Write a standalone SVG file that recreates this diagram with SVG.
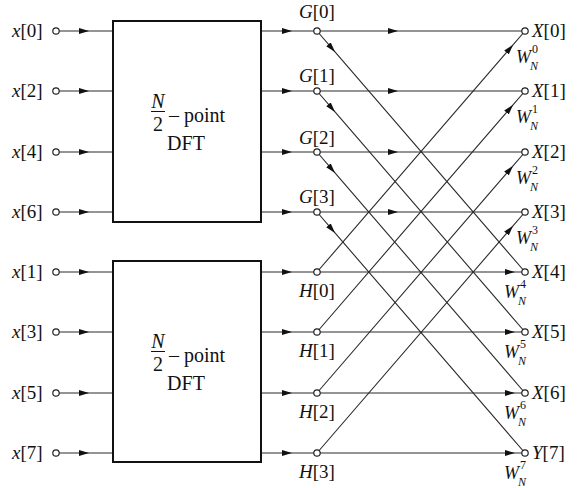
<svg xmlns="http://www.w3.org/2000/svg" width="577" height="488" viewBox="0 0 577 488">
<style>
.ln{fill:none;stroke:#2a2a2a;stroke-width:1.1;marker-mid:url(#ah)}
.box{fill:#fff;stroke:#111;stroke-width:2}
.nd{fill:#fff;stroke:#222;stroke-width:1.2}
text{font-family:"Liberation Serif","Times New Roman",serif;fill:#111}
.lb{font-size:19px}
.it{font-style:italic}
.w{font-size:18px}
.sm{font-size:12px}
.bt{font-size:20px}
</style>
<defs>
<marker id="ah" viewBox="0 0 10 6" refX="10" refY="3" markerWidth="10" markerHeight="6" markerUnits="userSpaceOnUse" orient="auto">
<path d="M0,0 L10,3 L0,6 z" fill="#111"/>
</marker>
</defs>
<rect width="577" height="488" fill="#fff"/>

<g id="connectors">
<path class="ln" d="M59,31 L89,31 L113,31"/>
<path class="ln" d="M59,91 L89,91 L113,91"/>
<path class="ln" d="M59,152 L89,152 L113,152"/>
<path class="ln" d="M59,212 L89,212 L113,212"/>
<path class="ln" d="M59,272 L89,272 L113,272"/>
<path class="ln" d="M59,332 L89,332 L113,332"/>
<path class="ln" d="M59,393 L89,393 L113,393"/>
<path class="ln" d="M59,453 L89,453 L113,453"/>
<path class="ln" d="M261,31 L292,31 L314,31"/>
<path class="ln" d="M261,91 L292,91 L314,91"/>
<path class="ln" d="M261,152 L292,152 L314,152"/>
<path class="ln" d="M261,212 L292,212 L314,212"/>
<path class="ln" d="M261,272 L292,272 L314,272"/>
<path class="ln" d="M261,332 L292,332 L314,332"/>
<path class="ln" d="M261,393 L292,393 L314,393"/>
<path class="ln" d="M261,453 L292,453 L314,453"/>
<path class="ln" d="M320,31 L398,31 L522,31"/>
<path class="ln" d="M320,91 L398,91 L522,91"/>
<path class="ln" d="M320,152 L398,152 L522,152"/>
<path class="ln" d="M320,212 L398,212 L522,212"/>
<path class="ln" d="M320,272 L515,272 L522,272"/>
<path class="ln" d="M320,332 L515,332 L522,332"/>
<path class="ln" d="M320,393 L515,393 L522,393"/>
<path class="ln" d="M320,453 L515,453 L522,453"/>
<path class="ln" d="M317,31 L335,51.9 L525,272"/>
<path class="ln" d="M317,91 L335,111.9 L525,332"/>
<path class="ln" d="M317,152 L335,172.9 L525,393"/>
<path class="ln" d="M317,212 L335,232.9 L525,453"/>
<path class="ln" d="M317,272 L513,44.9 L525,31"/>
<path class="ln" d="M317,332 L513,104.9 L525,91"/>
<path class="ln" d="M317,393 L513,165.9 L525,152"/>
<path class="ln" d="M317,453 L513,225.9 L525,212"/>
</g>

<g id="dft-top">
<rect class="box" x="113" y="21" width="148" height="201"/>
<text class="bt it" x="158" y="108" text-anchor="middle">N</text>
<line x1="151" y1="111.5" x2="165" y2="111.5" stroke="#111" stroke-width="1"/>
<text class="bt" x="158" y="131" text-anchor="middle">2</text>
<text class="bt" x="169" y="122">– point</text>
<text class="bt" x="186" y="150" text-anchor="middle">DFT</text>
</g>
<g id="dft-bottom">
<rect class="box" x="113" y="261" width="148" height="201"/>
<text class="bt it" x="158" y="348" text-anchor="middle">N</text>
<line x1="151" y1="351.5" x2="165" y2="351.5" stroke="#111" stroke-width="1"/>
<text class="bt" x="158" y="371" text-anchor="middle">2</text>
<text class="bt" x="169" y="362">– point</text>
<text class="bt" x="186" y="390" text-anchor="middle">DFT</text>
</g>

<g id="inputs">
<g id="in-x0"><circle class="nd" cx="56" cy="31" r="3.2"/><text class="lb" x="12" y="37"><tspan class="it">x</tspan>[0]</text></g>
<g id="in-x2"><circle class="nd" cx="56" cy="91" r="3.2"/><text class="lb" x="12" y="97"><tspan class="it">x</tspan>[2]</text></g>
<g id="in-x4"><circle class="nd" cx="56" cy="152" r="3.2"/><text class="lb" x="12" y="158"><tspan class="it">x</tspan>[4]</text></g>
<g id="in-x6"><circle class="nd" cx="56" cy="212" r="3.2"/><text class="lb" x="12" y="218"><tspan class="it">x</tspan>[6]</text></g>
<g id="in-x1"><circle class="nd" cx="56" cy="272" r="3.2"/><text class="lb" x="12" y="278"><tspan class="it">x</tspan>[1]</text></g>
<g id="in-x3"><circle class="nd" cx="56" cy="332" r="3.2"/><text class="lb" x="12" y="338"><tspan class="it">x</tspan>[3]</text></g>
<g id="in-x5"><circle class="nd" cx="56" cy="393" r="3.2"/><text class="lb" x="12" y="399"><tspan class="it">x</tspan>[5]</text></g>
<g id="in-x7"><circle class="nd" cx="56" cy="453" r="3.2"/><text class="lb" x="12" y="459"><tspan class="it">x</tspan>[7]</text></g>
</g>

<g id="mid-nodes">
<g id="G0"><circle class="nd" cx="317" cy="31" r="3.2"/><text class="lb" x="299" y="18"><tspan class="it">G</tspan>[0]</text></g>
<g id="G1"><circle class="nd" cx="317" cy="91" r="3.2"/><text class="lb" x="299" y="82"><tspan class="it">G</tspan>[1]</text></g>
<g id="G2"><circle class="nd" cx="317" cy="152" r="3.2"/><text class="lb" x="299" y="144"><tspan class="it">G</tspan>[2]</text></g>
<g id="G3"><circle class="nd" cx="317" cy="212" r="3.2"/><text class="lb" x="299" y="203"><tspan class="it">G</tspan>[3]</text></g>
<g id="H0"><circle class="nd" cx="317" cy="272" r="3.2"/><text class="lb" x="299" y="297"><tspan class="it">H</tspan>[0]</text></g>
<g id="H1"><circle class="nd" cx="317" cy="332" r="3.2"/><text class="lb" x="299" y="357"><tspan class="it">H</tspan>[1]</text></g>
<g id="H2"><circle class="nd" cx="317" cy="393" r="3.2"/><text class="lb" x="299" y="418"><tspan class="it">H</tspan>[2]</text></g>
<g id="H3"><circle class="nd" cx="317" cy="453" r="3.2"/><text class="lb" x="299" y="478"><tspan class="it">H</tspan>[3]</text></g>
</g>

<g id="outputs">
<g id="X0"><circle class="nd" cx="525" cy="31" r="3.2"/><text class="lb" x="532" y="37"><tspan class="it">X</tspan>[0]</text>
<text class="w it" x="516" y="63">W</text><text class="sm" x="532" y="53">0</text><text class="sm it" x="530" y="70">N</text></g>
<g id="X1"><circle class="nd" cx="525" cy="91" r="3.2"/><text class="lb" x="532" y="97"><tspan class="it">X</tspan>[1]</text>
<text class="w it" x="516" y="123">W</text><text class="sm" x="532" y="113">1</text><text class="sm it" x="530" y="130">N</text></g>
<g id="X2"><circle class="nd" cx="525" cy="152" r="3.2"/><text class="lb" x="532" y="158"><tspan class="it">X</tspan>[2]</text>
<text class="w it" x="516" y="184">W</text><text class="sm" x="532" y="174">2</text><text class="sm it" x="530" y="191">N</text></g>
<g id="X3"><circle class="nd" cx="525" cy="212" r="3.2"/><text class="lb" x="532" y="218"><tspan class="it">X</tspan>[3]</text>
<text class="w it" x="516" y="244">W</text><text class="sm" x="532" y="234">3</text><text class="sm it" x="530" y="251">N</text></g>
<g id="X4"><circle class="nd" cx="525" cy="272" r="3.2"/><text class="lb" x="532" y="278"><tspan class="it">X</tspan>[4]</text>
<text class="w it" x="504" y="298">W</text><text class="sm" x="520" y="288">4</text><text class="sm it" x="518" y="305">N</text></g>
<g id="X5"><circle class="nd" cx="525" cy="332" r="3.2"/><text class="lb" x="532" y="338"><tspan class="it">X</tspan>[5]</text>
<text class="w it" x="504" y="358">W</text><text class="sm" x="520" y="348">5</text><text class="sm it" x="518" y="365">N</text></g>
<g id="X6"><circle class="nd" cx="525" cy="393" r="3.2"/><text class="lb" x="532" y="399"><tspan class="it">X</tspan>[6]</text>
<text class="w it" x="504" y="419">W</text><text class="sm" x="520" y="409">6</text><text class="sm it" x="518" y="426">N</text></g>
<g id="X7"><circle class="nd" cx="525" cy="453" r="3.2"/><text class="lb" x="532" y="459"><tspan class="it">Y</tspan>[7]</text>
<text class="w it" x="504" y="479">W</text><text class="sm" x="520" y="469">7</text><text class="sm it" x="518" y="486">N</text></g>
</g>
</svg>
